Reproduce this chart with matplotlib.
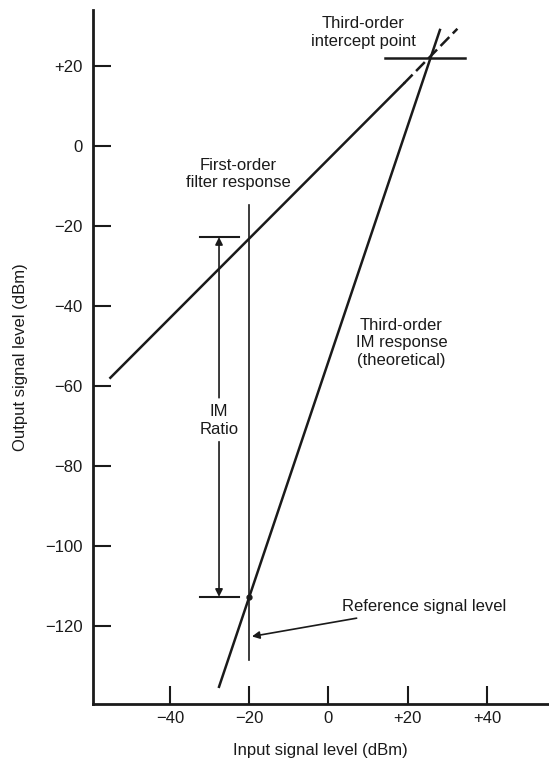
import numpy as np
import matplotlib
matplotlib.use("Agg")
import matplotlib.pyplot as plt

plt.rcParams["font.family"] = ["Liberation Sans", "DejaVu Sans"]
plt.rcParams["font.size"] = 12

## Podaci ###################

# prvi red (nagib 1), puni deo i isprekidani produzetak
first_x = [-55.0, 19.0]
first_y = [-58.0, 15.6]
first_dash_x = [19.0, 32.5]
first_dash_y = [15.6, 29.3]

# treci red (nagib 3)
third_x = [-27.6, 28.1]
third_y = [-135.3, 29.0]

# presek
intercept_x = [14.2, 34.4]
intercept_y = 22.0

# referentni nivo ulaza
ref_x = -20.0
ref_y = [-14.7, -128.5]
ref_point = (-20.0, -112.8)

# IM odnos
im_x = -27.6
im_top = -22.8
im_bottom = -112.8
im_bar_x = [-32.5, -22.6]
im_gap = [-63.0, -74.0]

xticks = [-40, -20, 0, 20, 40]
xtick_labels = ["\u221240", "\u221220", "0", "+20", "+40"]
yticks = [20, 0, -20, -40, -60, -80, -100, -120]
ytick_labels = ["+20", "0", "\u221220", "\u221240", "\u221260", "\u221280", "\u2212100", "\u2212120"]

## Grafik ###################

fig = plt.figure(figsize=(5.49, 7.61), dpi=100)
ax = fig.add_axes([0.1685, 0.0749, 0.8315, 0.912])

col = "#1a1a1a"

ax.plot(first_x, first_y, "-", color=col, lw=1.8)
ax.plot(first_dash_x, first_dash_y, color=col, lw=1.8, dashes=(5, 2))
ax.plot(third_x, third_y, "-", color=col, lw=1.8)
ax.plot(intercept_x, [intercept_y, intercept_y], "-", color=col, lw=1.8)
ax.plot([ref_x, ref_x], ref_y, "-", color=col, lw=1.2)
ax.plot(*ref_point, "o", color=col, markersize=3.5)

# IM ratio strelice i crtice
ax.plot(im_bar_x, [im_top, im_top], "-", color=col, lw=1.5)
ax.plot(im_bar_x, [im_bottom, im_bottom], "-", color=col, lw=1.5)
ax.annotate("", xy=(im_x, im_top), xytext=(im_x, im_gap[0]),
            arrowprops=dict(arrowstyle="-|>", color=col, lw=1.2,
                            mutation_scale=11, shrinkA=0, shrinkB=0))
ax.annotate("", xy=(im_x, im_bottom), xytext=(im_x, im_gap[1]),
            arrowprops=dict(arrowstyle="-|>", color=col, lw=1.2,
                            mutation_scale=11, shrinkA=0, shrinkB=0))
ax.text(im_x, -68.7, "IM\nRatio", ha="center", va="center", color=col)

ax.text(8.7, 28.4, "Third-order\nintercept point", ha="center", va="center", color=col)
ax.text(-22.8, -7.0, "First-order\nfilter response", ha="center", va="center", color=col)
ax.text(18.4, -49.3, "Third-order\nIM response\n(theoretical)", ha="center", va="center", color=col)

ax.annotate("Reference signal level", xy=(-19.3, -122.7), xytext=(3.3, -115.2),
            ha="left", va="center", color=col,
            arrowprops=dict(arrowstyle="-|>", color=col, lw=1.2,
                            mutation_scale=11, shrinkA=6, shrinkB=0))

ax.set_xlim(-59.5, 55.6)
ax.set_ylim(-139.6, 34)
ax.set_xticks(xticks)
ax.set_xticklabels(xtick_labels)
ax.set_yticks(yticks)
ax.set_yticklabels(ytick_labels)
ax.tick_params(direction="in", length=13, width=1.5, colors=col)
ax.tick_params(axis="y", pad=7)
ax.tick_params(axis="x", pad=5)

for side in ["top", "right"]:
    ax.spines[side].set_visible(False)
for side in ["left", "bottom"]:
    ax.spines[side].set_linewidth(2.0)
    ax.spines[side].set_color(col)

ax.set_xlabel("Input signal level (dBm)", color=col, labelpad=12)
ax.set_ylabel("Output signal level (dBm)", color=col, labelpad=12)

fig.savefig("out.png", dpi=100)
